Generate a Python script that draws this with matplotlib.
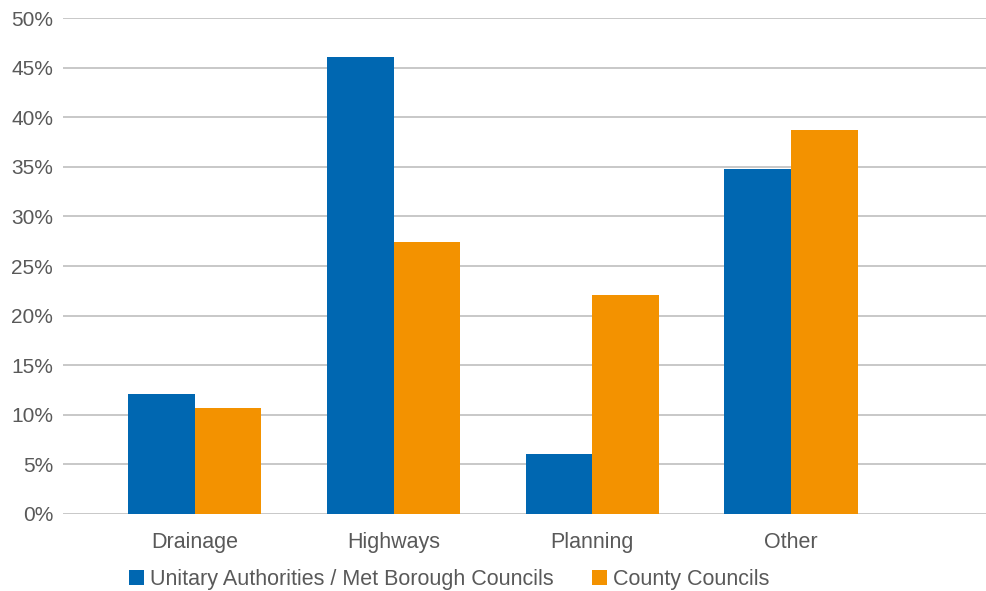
import numpy as np
import matplotlib.pyplot as plt
from matplotlib.ticker import FuncFormatter

categories = ["Drainage", "Highways", "Planning", "Other"]
unitary = [12.1, 46.1, 6.0, 34.8]
county = [10.7, 27.4, 22.1, 38.7]
series_names = ["Unitary Authorities / Met Borough Councils", "County Councils"]

blue = "#0067B1"
orange = "#F39200"
text_grey = "#595959"

plt.rcParams['font.family'] = ['Liberation Sans', 'DejaVu Sans']

fig = plt.figure(figsize=(9.87, 5.91), dpi=100)
ax = fig.add_axes([0.0638, 0.1303, 0.9362, 0.8392])

x = np.arange(len(categories))
w = 0.335
ax.bar(x - w / 2, unitary, w, color=blue, label=series_names[0], zorder=3)
ax.bar(x + w / 2, county, w, color=orange, label=series_names[1], zorder=3)

ax.set_xlim(-0.664, 3.986)
ax.set_ylim(0, 50)
ax.set_yticks(np.arange(0, 51, 5))
ax.yaxis.set_major_formatter(FuncFormatter(lambda v, p: f"{v:.0f}%"))
ax.yaxis.grid(True, color="#BFBFBF", linewidth=1.2, zorder=0)
ax.set_xticks(x)
ax.set_xticklabels(categories)
ax.tick_params(axis='both', length=0, colors=text_grey)
ax.tick_params(axis='x', pad=13, labelsize=15.5)
ax.tick_params(axis='y', pad=7, labelsize=15)
for s in ax.spines.values():
    s.set_visible(False)

leg = fig.legend(loc='center left', bbox_to_anchor=(0.131, 0.019), ncol=2, frameon=False,
                 fontsize=15.5, handlelength=0.7, handleheight=0.7, handletextpad=0.25,
                 columnspacing=1.8, borderaxespad=0, borderpad=0)
for t in leg.get_texts():
    t.set_color(text_grey)

fig.savefig("out.png", dpi=100)
